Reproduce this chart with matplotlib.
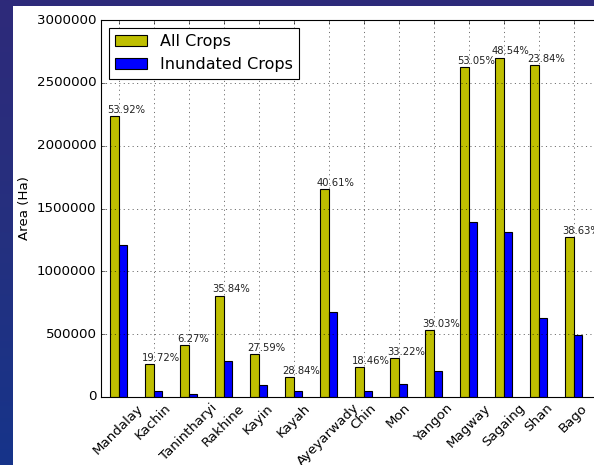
import numpy as np
import matplotlib
matplotlib.use("Agg")
import matplotlib.pyplot as plt
from matplotlib.colors import LinearSegmentedColormap
from matplotlib.patches import Rectangle

plt.style.use("classic")

# Cropped area per region (hectares)
regions = ["Mandalay", "Kachin", "Tanintharyi", "Rakhine", "Kayin", "Kayah",
           "Ayeyarwady", "Chin", "Mon", "Yangon", "Magway", "Sagaing",
           "Shan", "Bago"]
all_crops = [2238000, 262000, 413000, 807000, 339000, 159000, 1656000,
             241000, 307000, 532000, 2627000, 2701000, 2643000, 1272000]
inundated = [1206730, 51666, 25895, 289229, 93530, 45856, 672502,
             44489, 101985, 207640, 1393624, 1311065, 630091, 491374]
yticks = [0, 500000, 1000000, 1500000, 2000000, 2500000, 3000000]

W, H, DPI = 594, 465, 80
fig = plt.figure(figsize=(W / DPI, H / DPI), dpi=DPI)

# Slide-style backdrop with a white panel for the chart
bg = fig.add_axes([0, 0, 1, 1], zorder=-1)
cmap = LinearSegmentedColormap.from_list("slide", ["#2e2a7a", "#25307f", "#16348a"])
grad = np.linspace(0, 1, 256).reshape(-1, 1)
bg.imshow(grad, aspect="auto", cmap=cmap, extent=[0, 1, 0, 1], origin="upper")
bg.add_patch(Rectangle((13 / W, 0), 1 - 13 / W, (H - 6) / H,
                       transform=bg.transAxes, facecolor="white", edgecolor="none"))
bg.set_xlim(0, 1)
bg.set_ylim(0, 1)
bg.axis("off")

width = 0.25
x = np.arange(len(regions))
unit = 35.0  # pixels per category slot
xmin, xmax = -0.25, 14.0
ax = fig.add_axes([101 / W, 1 - 397 / H, (xmax - xmin) * unit / W, 377 / H])
ax.set_facecolor("white")

bars_all = ax.bar(x, all_crops, width, align="edge", color="y",
                  edgecolor="k", label="All Crops")
ax.bar(x + width, inundated, width, align="edge", color="b",
       edgecolor="k", label="Inundated Crops")

for xi, a, w in zip(x, all_crops, inundated):
    ax.annotate(f"{100.0 * w / a:.2f}%", xy=(xi - 0.08, a), xytext=(0, 1),
                textcoords="offset points", ha="left", va="bottom",
                fontsize=9, color="#222222")

ax.set_xlim(xmin, xmax)
ax.set_ylim(0, 3000000)
ax.set_yticks(yticks)
ax.set_xticks(x + width)
ax.set_xticklabels(regions, rotation=45)
ax.set_ylabel("Area (Ha)")
ax.grid(True)
ax.legend(loc="upper left")

fig.savefig("out.png", dpi=DPI)
